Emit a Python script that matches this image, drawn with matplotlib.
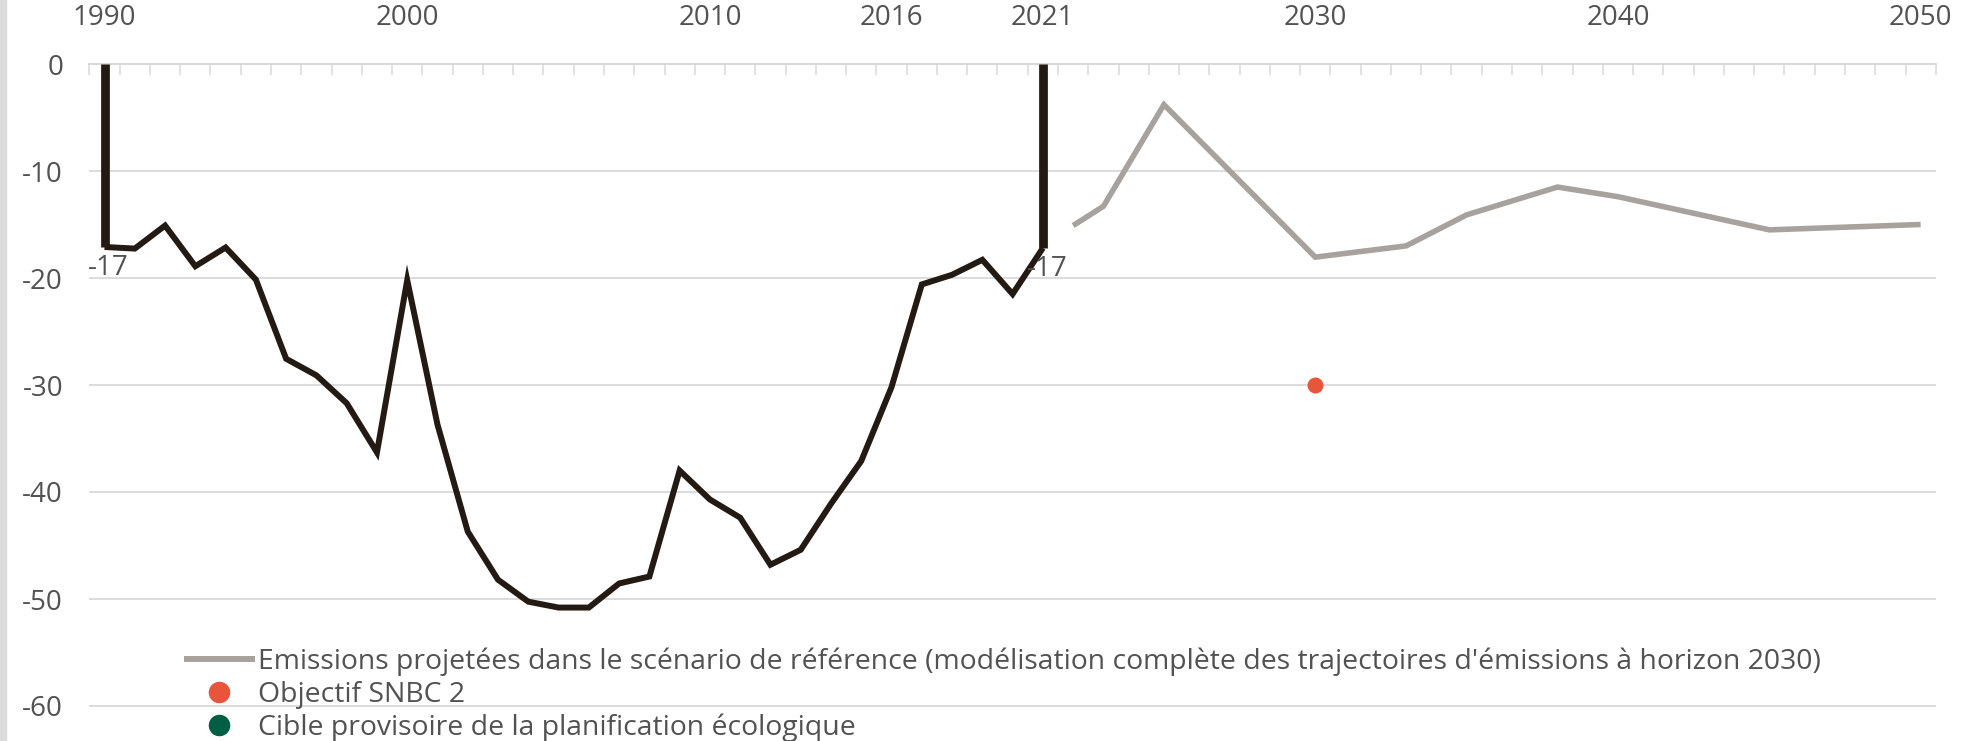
import matplotlib
matplotlib.use("Agg")
import matplotlib.pyplot as plt
from matplotlib.lines import Line2D
import numpy as np

# ---------------- data ----------------
hist_years = list(range(1990, 2022))
hist_values = [-17.1, -17.25, -15.1, -18.9, -17.15, -20.15, -27.55, -29.1, -31.7, -36.3,
               -20.2, -33.7, -43.7, -48.2, -50.25, -50.8, -50.8, -48.55, -47.9, -38.0,
               -40.7, -42.4, -46.8, -45.4, -41.1, -37.1, -30.2, -20.6, -19.7, -18.3, -21.5, -17.2]

bar_years = [1990, 2021]
bar_values = [-17.1, -17.2]

proj_years = [2022, 2023, 2025, 2030, 2033, 2035, 2038, 2040, 2045, 2050]
proj_values = [-15.1, -13.3, -3.8, -18.05, -17.0, -14.1, -11.5, -12.4, -15.5, -15.0]

snbc_years = [2030]
snbc_values = [-30]

cible_years = []
cible_values = []

xtick_years = [1990, 2000, 2010, 2016, 2021, 2030, 2040, 2050]
yticks = [0, -10, -20, -30, -40, -50, -60]

legend_labels = [
    "Emissions projetées dans le scénario de référence (modélisation complète des trajectoires d'émissions à horizon 2030)",
    "Objectif SNBC 2",
    "Cible provisoire de la planification écologique",
]

# ---------------- style ----------------
plt.rcParams["font.family"] = ["Open Sans", "DejaVu Sans"]
plt.rcParams["axes.unicode_minus"] = False
TXT = "#525252"
GRID = "#d9d9d9"
BLACK = "#231a13"
GREY = "#a8a29e"
RED = "#e8553a"
GREEN = "#005e45"
FS = 20
LEG_FS = 20.4

W, H = 1975, 741
fig = plt.figure(figsize=(W / 100, H / 100), dpi=100)
fig.patch.set_facecolor("white")

# left grey strip
fig.add_artist(plt.Rectangle((0, 0), 6 / W, 1, transform=fig.transFigure,
                             color="#dcdcdc", zorder=0))

ax_left, ax_right = 89.4 / W, 1935.8 / W
ax_top = 1 - 64 / H
ax = fig.add_axes([ax_left, 0, ax_right - ax_left, ax_top])
ax.set_xlim(1989.5, 2050.5)
px_per_unit = 10.7
ax.set_ylim(-(H - 64) / px_per_unit, 0)

# grid
ax.set_yticks(yticks)
ax.set_yticklabels([str(v) for v in yticks])
ax.yaxis.grid(True, color=GRID, linewidth=1.3)
ax.set_axisbelow(True)
for s in ["left", "right", "bottom"]:
    ax.spines[s].set_visible(False)
ax.spines["top"].set_color(GRID)
ax.spines["top"].set_linewidth(1.5)
ax.tick_params(axis="y", length=0, pad=19, labelsize=FS, labelcolor=TXT)

ax.xaxis.set_ticks_position("top")
ax.set_xticks(xtick_years)
ax.set_xticklabels([str(y) for y in xtick_years])
ax.set_xticks(np.arange(1989.5, 2051, 1.0), minor=True)
ax.tick_params(axis="x", which="major", length=0, pad=23, labelsize=FS, labelcolor=TXT)
ax.tick_params(axis="x", which="minor", direction="in", length=8, width=1.1, color=GRID)

# series
ax.vlines(bar_years, bar_values, 0, color=BLACK, linewidth=6.3, zorder=3)
ax.plot(hist_years, hist_values, color=BLACK, linewidth=4.3,
        solid_joinstyle="miter", solid_capstyle="butt", zorder=4)
ax.plot(proj_years, proj_values, color=GREY, linewidth=4.0,
        solid_joinstyle="miter", solid_capstyle="butt", zorder=4)
ax.plot(snbc_years, snbc_values, "o", color=RED, markersize=11.5,
        markeredgewidth=0, zorder=5)
ax.plot(cible_years, cible_values, "o", color=GREEN, markersize=11.5,
        markeredgewidth=0, zorder=5)

for x, v in zip(bar_years, bar_values):
    ax.annotate(f"{v:.0f}", (x, v), xytext=(3, -15), textcoords="offset points",
                ha="center", va="center", fontsize=FS, color=TXT, zorder=6)

handles = [
    Line2D([], [], color=GREY, linewidth=4.3),
    Line2D([], [], color=RED, marker="o", linestyle="none", markersize=15.5, markeredgewidth=0),
    Line2D([], [], color=GREEN, marker="o", linestyle="none", markersize=15.5, markeredgewidth=0),
]
leg = fig.legend(handles, legend_labels, loc="upper left",
                 bbox_to_anchor=(186.6 / W, 1 - 647 / H),
                 frameon=False, fontsize=LEG_FS, labelcolor=TXT,
                 borderpad=0, borderaxespad=0, handlelength=2.3,
                 handletextpad=0.21, labelspacing=0.18)

fig.savefig("out.png", dpi=100, facecolor="white")
